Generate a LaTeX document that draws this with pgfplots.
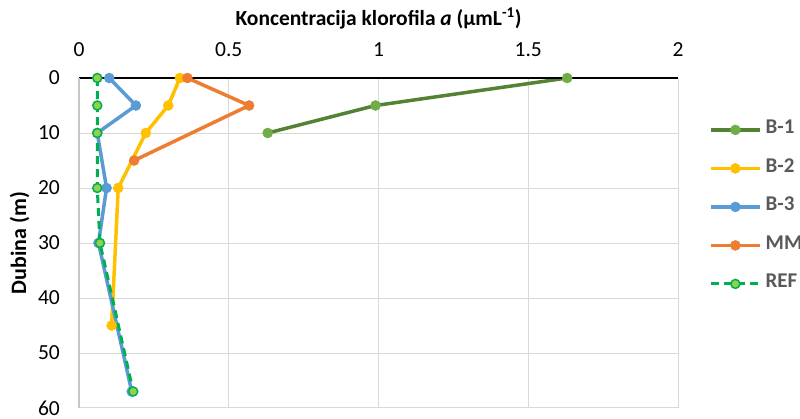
\documentclass[border=0pt]{standalone}
\usepackage{pgfplots}
\pgfplotsset{compat=1.18}
\usepackage{fontspec}
\setmainfont{Carlito}
\definecolor{cB1}{HTML}{548235}
\definecolor{cB1m}{HTML}{70AD47}
\definecolor{cB2}{HTML}{FFC000}
\definecolor{cB3}{HTML}{5B9BD5}
\definecolor{cMM}{HTML}{ED7D31}
\definecolor{cREF}{HTML}{00B050}
\definecolor{cREFm}{HTML}{92D050}
\definecolor{gridc}{HTML}{D9D9D9}
\definecolor{txt}{HTML}{595959}
\begin{document}
\begin{tikzpicture}[x=1pt,y=1pt]
\path[use as bounding box] (-79,-11) rectangle (721,408);
\begin{axis}[
  at={(0,0)}, anchor=south west,
  scale only axis, width=599pt, height=330pt,
  xmin=0, xmax=2, ymin=0, ymax=60, y dir=reverse,
  xtick={0,0.5,1,1.5,2}, ytick={0,10,20,30,40,50,60},
  xticklabel pos=upper,
  xticklabels={0,0.5,1,1.5,2},
  major tick length=0pt,
  grid=major, major grid style={gridc, line width=1pt},
  axis line style={draw=none},
  /pgf/number format/assume math mode=true,
  tick label style={font=\fontsize{21.5}{24}\selectfont, text=black},
  xticklabel style={anchor=base, inner sep=0pt, yshift=22pt},
  yticklabel style={anchor=east, inner sep=0pt, xshift=-19pt},
  xlabel={Koncentracija klorofila \textit{a} (µmL\textsuperscript{-1})},
  xlabel style={font=\bfseries\fontsize{21.5}{24}\selectfont, at={(axis description cs:0.5,1)}, anchor=base, inner sep=0pt, yshift=53pt},
  ylabel={Dubina (m)},
  ylabel style={font=\bfseries\fontsize{22}{25}\selectfont, at={(axis description cs:-0.0993,0.5)}, anchor=center, inner sep=0pt},
  legend style={draw=none, fill=none, at={(1.052,0.873)}, anchor=north west,
    inner sep=0pt, outer sep=0pt,
    font=\bfseries\fontsize{21}{24}\selectfont, text=txt, row sep=18.5pt,
    nodes={text height=14pt, text depth=6pt, inner sep=0pt, inner xsep=4pt},
    cells={anchor=west}},
  legend image code/.code={\draw[mark repeat=2,mark phase=2] plot coordinates {(0pt,0pt) (24.5pt,0pt) (49pt,0pt)};},
  clip=false,
]
\addplot[cB1, line width=3.5pt, mark=*, mark size=5pt, mark options={solid, fill=cB1m, draw=cB1m, line width=0.5pt}]
  coordinates {(1.63,0) (0.99,5) (0.63,10)};
\addlegendentry{B-1}
\addplot[cB2, line width=3.5pt, mark=*, mark size=5pt, mark options={solid, fill=cB2, draw=cB2, line width=0.5pt}]
  coordinates {(0.337,0) (0.298,5) (0.223,10) (0.131,20) (0.109,45)};
\addlegendentry{B-2}
\addplot[cB3, line width=3.5pt, mark=*, mark size=5pt, mark options={solid, fill=cB3, draw=cB3, line width=0.5pt}]
  coordinates {(0.101,0) (0.19,5) (0.061,10) (0.092,20) (0.065,30) (0.176,57)};
\addlegendentry{B-3}
\addplot[cMM, line width=3.5pt, mark=*, mark size=5pt, mark options={solid, fill=cMM, draw=cMM, line width=0.5pt}]
  coordinates {(0.362,0) (0.568,5) (0.184,15)};
\addlegendentry{MM}
\addplot[cREF, line width=3pt, dash pattern=on 8pt off 5pt, mark=*, mark size=4.5pt, mark options={solid, fill=cREFm, draw=cREF, line width=1.5pt}]
  coordinates {(0.061,0) (0.061,5) (0.061,10) (0.061,20) (0.07,30) (0.181,57)};
\addlegendentry{REF}
\draw[black, line width=1.5pt] (rel axis cs:0,1) -- (rel axis cs:1,1);
\draw[gridc!80!gray, line width=1.2pt] (rel axis cs:0,0) -- (rel axis cs:0,1);
\end{axis}
\end{tikzpicture}
\end{document}
